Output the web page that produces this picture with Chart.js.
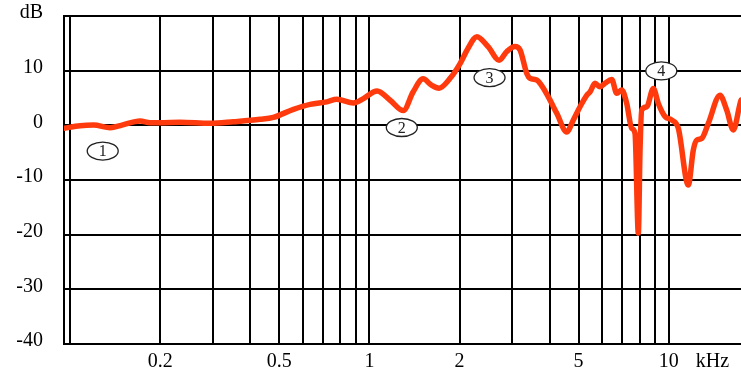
<!DOCTYPE html>
<html>
<head>
<meta charset="utf-8">
<script src="https://cdn.jsdelivr.net/npm/chart.js@4/dist/chart.umd.min.js"></script>
<style>
  html, body { margin: 0; padding: 0; background: #fff; overflow: hidden; }
  #wrap { width: 741px; height: 372px; }
</style>
</head>
<body>
<div id="wrap"><canvas id="canvas" width="741" height="372"></canvas></div>
<script>
// frequency response, kHz / dB
var freqKHz = [0.0954, 0.108, 0.1197, 0.1361, 0.149, 0.1714, 0.1849, 0.2, 0.2332, 0.2937,
	0.3514, 0.4313, 0.4776, 0.5575, 0.6336, 0.7207, 0.7783, 0.8844, 0.955, 1.031,
	1.061, 1.1726, 1.299, 1.3993, 1.5112, 1.6072, 1.7091, 1.8604, 2.009, 2.1364,
	2.2846, 2.4916, 2.7124, 2.8776, 3.0666, 3.1866, 3.3553, 3.4414, 3.6233, 3.8121,
	3.9617, 4.2266, 4.5638, 4.8011, 5.0551, 5.3222, 5.4591, 5.6731, 5.8954, 6.1269,
	6.4509, 6.7039, 6.9668, 7.2401, 7.524, 7.7173, 7.9161, 8.0203, 8.1258, 8.4448,
	8.8845, 9.2326, 9.7194, 10.233, 10.766, 11.629, 12.085, 12.405, 12.892, 13.563,
	14.838, 15.622, 16.436, 17.443, 18.41];
var levelDB = [-0.55, -0.07, 0.05, -0.44, 0.05, 0.79, 0.48, 0.48, 0.55, 0.36,
	0.66, 1.1, 1.46, 2.93, 3.84, 4.3, 4.75, 4.1, 4.9, 6.1,
	6.3, 4.6, 2.7, 6.1, 8.5, 7.4, 6.8, 8.6, 11.3, 14.1,
	16.2, 14.4, 11.9, 13.5, 14.4, 13.8, 9.5, 8.6, 8.3, 6.8,
	5.2, 2.2, -1.2, 0.97, 3.4, 5.5, 6.1, 7.7, 7.05, 7.7,
	8.4, 5.85, 6.45, 4.0, -0.55, -1.5, -19.7, -4.5, 2.8, 3.4,
	6.75, 4.0, 1.6, 0.97, -0.55, -10.9, -4.5, -2.7, -2.4, 0.37,
	5.5, 2.8, -0.85, 4.6, 6];

var xGridTicks = [0.1, 0.2, 0.3, 0.4, 0.5, 0.6, 0.7, 0.8, 0.9, 1, 2, 3, 4, 5, 6, 7, 8, 9, 10];
var xLabelTicks = { 0.2: '0.2', 0.5: '0.5', 1: '1', 2: '2', 5: '5', 10: '10', 14: 'kHz' };
var yTicks = [-40, -30, -20, -10, 0, 10, 20];
var yUnitLabel = 'dB';

var markerLabels = ['1', '2', '3', '4'];
var markerFreq = [0.1285, 1.283, 2.52, 9.447];
var markerDB = [-4.7, -0.4, 8.74, 9.96];

var points = freqKHz.map(function(f, i) { return { x: f, y: levelDB[i] }; });

var markerPlugin = {
	id: 'markers',
	afterDatasetsDraw: function(chart) {
		var ctx = chart.ctx;
		var xs = chart.scales.x, ys = chart.scales.y;
		ctx.save();
		for (var i = 0; i < markerLabels.length; i++) {
			var px = xs.getPixelForValue(markerFreq[i]);
			var py = ys.getPixelForValue(markerDB[i]);
			ctx.beginPath();
			ctx.ellipse(px, py, 15.5, 9, 0, 0, Math.PI * 2);
			ctx.fillStyle = '#fff';
			ctx.fill();
			ctx.lineWidth = 1.3;
			ctx.strokeStyle = '#222';
			ctx.stroke();
			ctx.fillStyle = '#222';
			ctx.font = '16px "Liberation Serif", serif';
			ctx.textAlign = 'center';
			ctx.textBaseline = 'middle';
			ctx.fillText(markerLabels[i], px, py + 1);
		}
		ctx.restore();
	}
};

var ctx = document.getElementById('canvas').getContext('2d');
var chart = new Chart(ctx, {
	type: 'line',
	data: {
		datasets: [{
			data: points,
			borderColor: '#ff3b0e',
			borderWidth: 5.5,
			pointRadius: 0,
			fill: false,
			cubicInterpolationMode: 'monotone',
			borderJoinStyle: 'round',
			borderCapStyle: 'round'
		}]
	},
	options: {
		responsive: false,
		animation: false,
		events: [],
		layout: { padding: { top: 16, left: 0, right: 0, bottom: 0 } },
		plugins: { legend: { display: false }, tooltip: { enabled: false } },
		scales: {
			x: {
				type: 'logarithmic',
				min: 0.0954,
				max: 17.44,
				afterBuildTicks: function(axis) {
					axis.ticks = xGridTicks.concat([14]).map(function(v) { return { value: v }; });
				},
				afterFit: function(axis) {
					axis.height = 28;
					axis.paddingLeft = 0;
					axis.paddingRight = 0;
				},
				grid: {
					color: function(c) { return c.tick && c.tick.value === 14 ? 'rgba(0,0,0,0)' : '#000'; },
					lineWidth: 2,
					drawTicks: false
				},
				border: { color: '#000', width: 2 },
				ticks: {
					autoSkip: false,
					maxRotation: 0,
					padding: 6,
					color: '#000',
					font: { family: '"Liberation Serif", serif', size: 20 },
					callback: function(v) { return xLabelTicks[v] || ''; }
				}
			},
			y: {
				min: -40,
				max: 20,
				afterBuildTicks: function(axis) {
					axis.ticks = yTicks.map(function(v) { return { value: v }; });
				},
				afterFit: function(axis) {
					axis.width = 64;
					axis.paddingTop = 0;
					axis.paddingBottom = 0;
				},
				grid: { color: '#000', lineWidth: 2, drawTicks: false },
				border: { color: '#000', width: 2 },
				ticks: {
					padding: 21,
					labelOffset: -3,
					color: '#000',
					font: { family: '"Liberation Serif", serif', size: 20 },
					callback: function(v) { return v === 20 ? yUnitLabel : String(v); }
				}
			}
		}
	},
	plugins: [markerPlugin]
});
</script>
</body>
</html>
